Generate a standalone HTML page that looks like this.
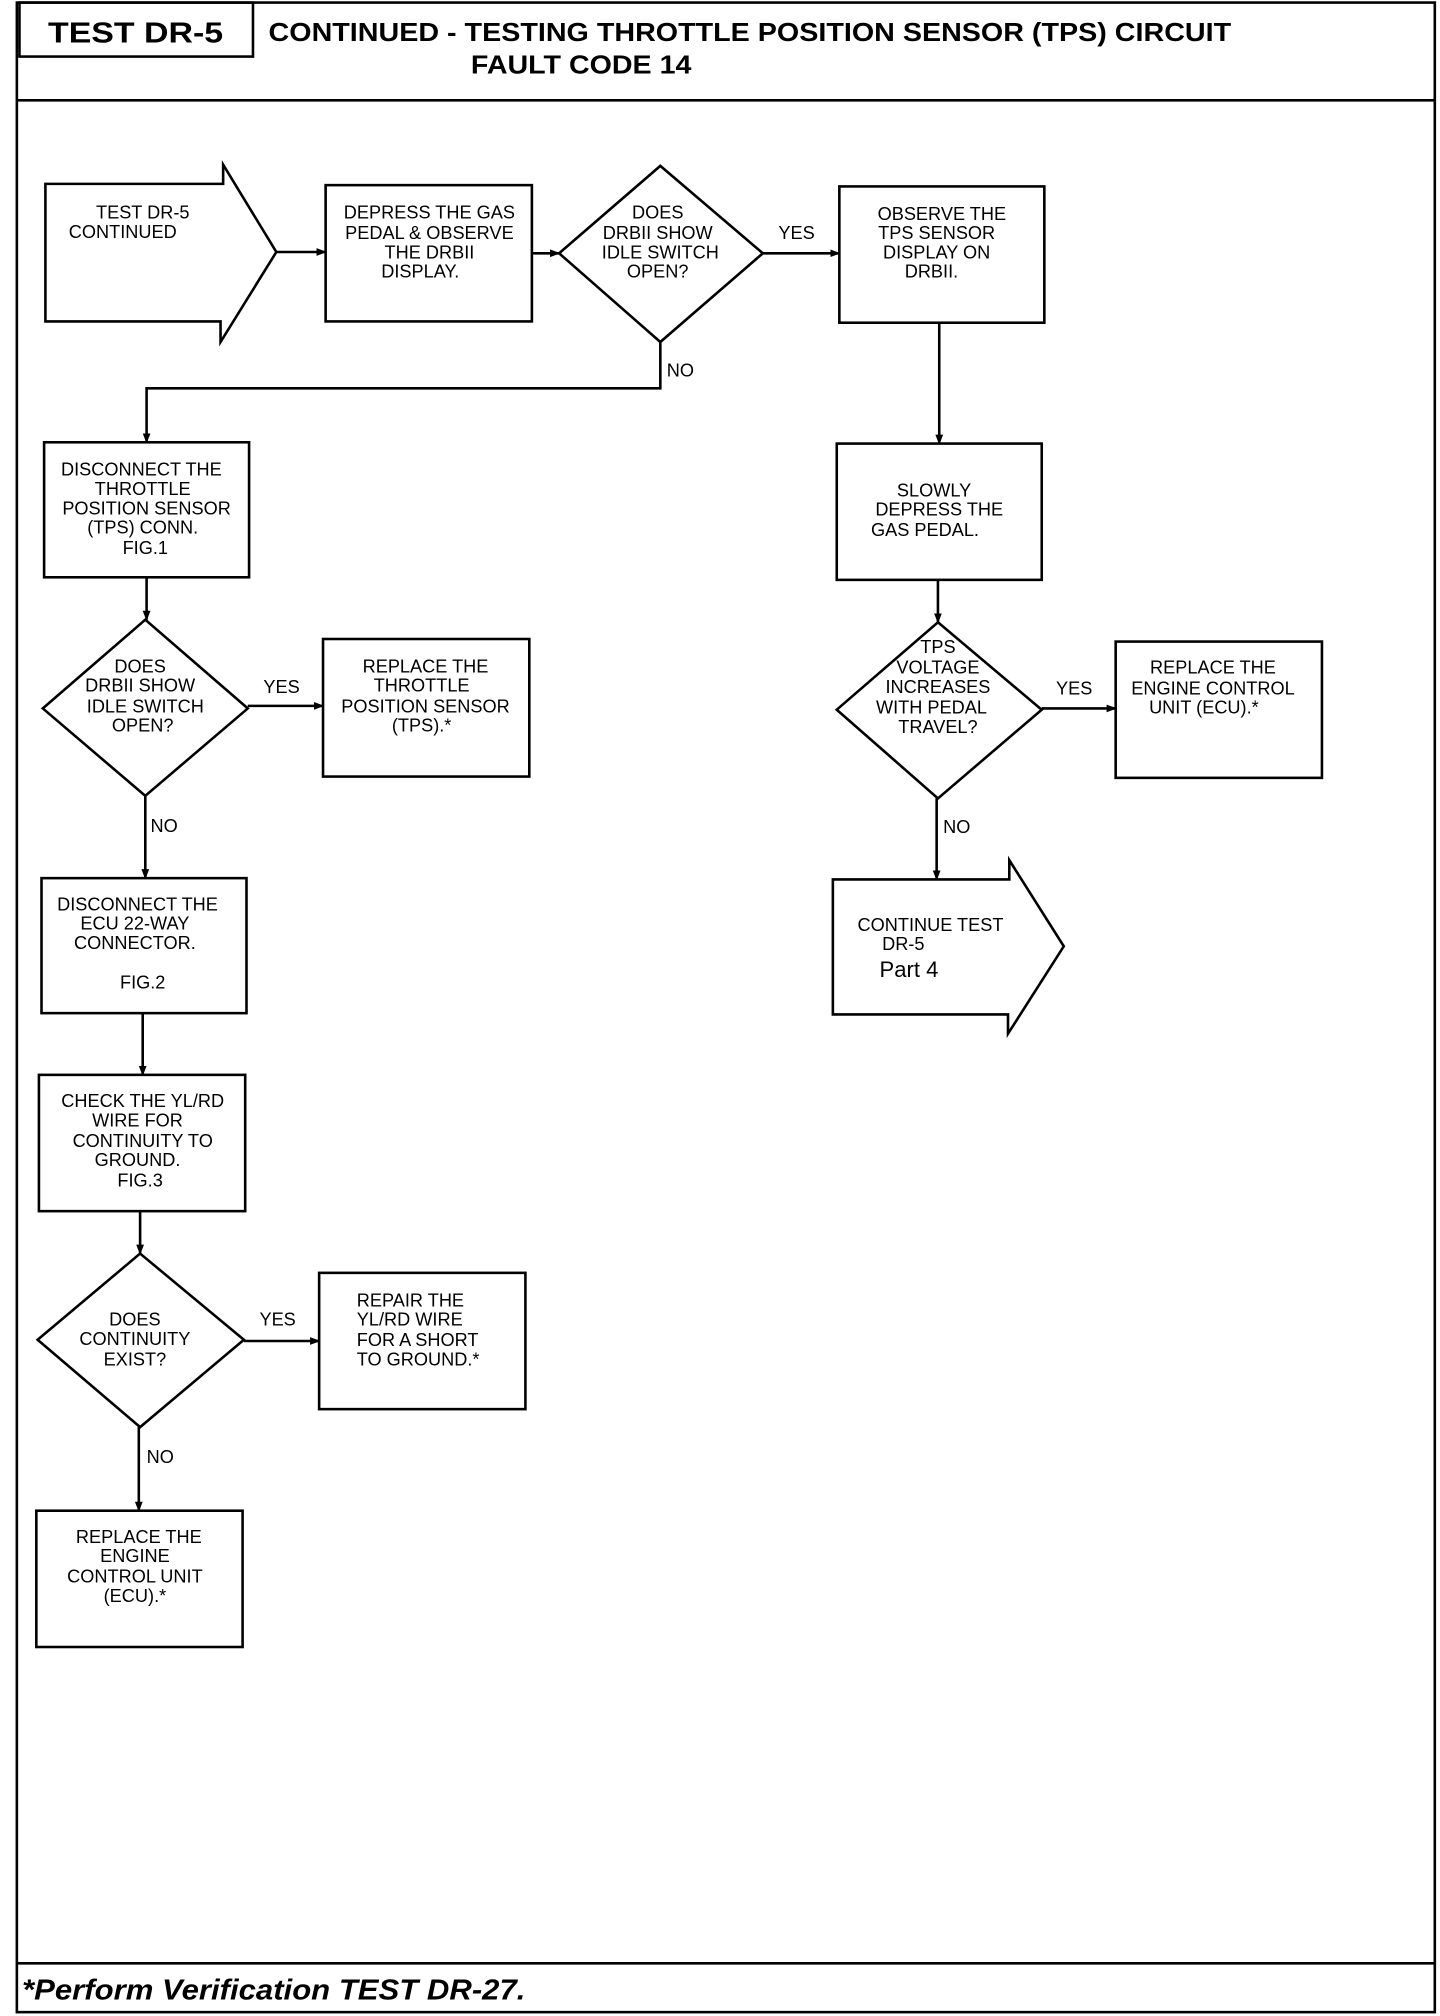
<!DOCTYPE html>
<html><head><meta charset="utf-8"><style>
html,body{margin:0;padding:0;background:#fff;}
svg{display:block;}
.n{font-family:"Liberation Sans Narrow","Liberation Sans",sans-serif;font-size:14px;text-anchor:middle;fill:#000;}
.l{font-family:"Liberation Sans Narrow","Liberation Sans",sans-serif;font-size:14px;fill:#000;}
</style></head><body>
<svg width="1440" height="2016" viewBox="0 0 1110 1568" preserveAspectRatio="none" xmlns="http://www.w3.org/2000/svg">
<defs><marker id="a" markerWidth="8" markerHeight="8" refX="7" refY="4" orient="auto" markerUnits="userSpaceOnUse"><path d="M0,1 L8,4 L0,7z" fill="#000"/></marker></defs>
<g fill="none" stroke="#000" stroke-width="2">
<rect x="13" y="2" width="1093" height="1563"/>
<line x1="13" y1="78" x2="1106" y2="78"/>
<rect x="15" y="2" width="180" height="42"/>
<line x1="13" y1="1527" x2="1106" y2="1527"/>
<polygon points="35,143 172,143 172,128 213,196 170,266 170,250 35,250"/>
<rect x="251" y="144" width="159" height="106"/>
<polygon points="509,129 588,197 509,266 431,197"/>
<rect x="647" y="145" width="158" height="106"/>
<rect x="34" y="344" width="158" height="105"/>
<polygon points="112,482 191,551 112,619 33,551"/>
<rect x="249" y="497" width="159" height="107"/>
<rect x="32" y="683" width="158" height="105"/>
<rect x="30" y="836" width="159" height="106"/>
<polygon points="108,975 188,1042 108,1110 29,1042"/>
<rect x="246" y="990" width="159" height="106"/>
<rect x="28" y="1175" width="159" height="106"/>
<rect x="645" y="345" width="158" height="106"/>
<polygon points="723,484 803,552 723,621 645,552"/>
<rect x="860" y="499" width="159" height="106"/>
<polygon points="642,684 778,684 778,669 820,736 777,804 777,789 642,789"/>
<g marker-end="url(#a)">
<line x1="213" y1="196" x2="251" y2="196"/>
<line x1="410" y1="197" x2="431" y2="197"/>
<line x1="588" y1="197" x2="647" y2="197"/>
<polyline points="509,266 509,302 113,302 113,344"/>
<line x1="113" y1="449" x2="113" y2="482"/>
<line x1="191" y1="549" x2="249" y2="549"/>
<line x1="112" y1="619" x2="112" y2="683"/>
<line x1="110" y1="788" x2="110" y2="836"/>
<line x1="108" y1="942" x2="108" y2="975"/>
<line x1="188" y1="1043" x2="246" y2="1043"/>
<line x1="107" y1="1110" x2="107" y2="1175"/>
<line x1="724" y1="251" x2="724" y2="345"/>
<line x1="723" y1="451" x2="723" y2="484"/>
<line x1="803" y1="551" x2="860" y2="551"/>
<line x1="722" y1="621" x2="722" y2="684"/>
</g>
</g>
<text x="37" y="33" font-family="Liberation Sans" font-weight="bold" font-size="22" textLength="135" lengthAdjust="spacingAndGlyphs">TEST DR-5</text>
<text x="207" y="32" font-family="Liberation Sans" font-weight="bold" font-size="20" textLength="742" lengthAdjust="spacingAndGlyphs">CONTINUED -  TESTING THROTTLE POSITION SENSOR (TPS) CIRCUIT</text>
<text x="363" y="57" font-family="Liberation Sans" font-weight="bold" font-size="20" textLength="170" lengthAdjust="spacingAndGlyphs">FAULT CODE 14</text>
<text x="17" y="1555" font-family="Liberation Sans" font-weight="bold" font-style="italic" font-size="22" textLength="388" lengthAdjust="spacingAndGlyphs">*Perform Verification TEST DR-27.</text>
<text class="l" x="74" y="170">TEST DR-5</text><text class="l" x="53" y="185">CONTINUED</text>
<text class="n"><tspan x="331" y="170">DEPRESS THE GAS</tspan><tspan x="331" y="186">PEDAL &amp; OBSERVE</tspan><tspan x="331" y="201">THE DRBII</tspan><tspan x="324" y="216">DISPLAY.</tspan></text>
<text class="n"><tspan x="507" y="170">DOES</tspan><tspan x="507" y="186">DRBII SHOW</tspan><tspan x="509" y="201">IDLE SWITCH</tspan><tspan x="507" y="216">OPEN?</tspan></text>
<text class="l" x="600" y="186">YES</text>
<text class="n"><tspan x="726" y="171">OBSERVE THE</tspan><tspan x="722" y="186">TPS SENSOR</tspan><tspan x="722" y="201">DISPLAY ON</tspan><tspan x="718" y="216">DRBII.</tspan></text>
<text class="l" x="514" y="293">NO</text>
<text class="n"><tspan x="109" y="370">DISCONNECT THE</tspan><tspan x="110" y="385">THROTTLE</tspan><tspan x="113" y="400">POSITION SENSOR</tspan><tspan x="110" y="415">(TPS) CONN.</tspan><tspan x="112" y="431">FIG.1</tspan></text>
<text class="n"><tspan x="108" y="523">DOES</tspan><tspan x="108" y="538">DRBII SHOW</tspan><tspan x="112" y="554">IDLE SWITCH</tspan><tspan x="110" y="569">OPEN?</tspan></text>
<text class="l" x="203" y="539">YES</text>
<text class="n"><tspan x="328" y="523">REPLACE THE</tspan><tspan x="325" y="538">THROTTLE</tspan><tspan x="328" y="554">POSITION SENSOR</tspan><tspan x="325" y="569">(TPS).*</tspan></text>
<text class="l" x="116" y="647">NO</text>
<text class="n"><tspan x="106" y="708">DISCONNECT THE</tspan><tspan x="104" y="723">ECU 22-WAY</tspan><tspan x="104" y="738">CONNECTOR.</tspan><tspan x="110" y="769">FIG.2</tspan></text>
<text class="n"><tspan x="110" y="861">CHECK THE YL/RD</tspan><tspan x="106" y="876">WIRE FOR</tspan><tspan x="110" y="892">CONTINUITY TO</tspan><tspan x="106" y="907">GROUND.</tspan><tspan x="108" y="923">FIG.3</tspan></text>
<text class="n"><tspan x="104" y="1031">DOES</tspan><tspan x="104" y="1046">CONTINUITY</tspan><tspan x="104" y="1062">EXIST?</tspan></text>
<text class="l" x="200" y="1031">YES</text>
<text class="l"><tspan x="275" y="1016">REPAIR THE</tspan><tspan x="275" y="1031">YL/RD WIRE</tspan><tspan x="275" y="1047">FOR A SHORT</tspan><tspan x="275" y="1062">TO GROUND.*</tspan></text>
<text class="l" x="113" y="1138">NO</text>
<text class="n"><tspan x="107" y="1200">REPLACE THE</tspan><tspan x="104" y="1215">ENGINE</tspan><tspan x="104" y="1231">CONTROL UNIT</tspan><tspan x="104" y="1246">(ECU).*</tspan></text>
<text class="n"><tspan x="720" y="386">SLOWLY</tspan><tspan x="724" y="401">DEPRESS THE</tspan><tspan x="713" y="417">GAS PEDAL.</tspan></text>
<text class="n"><tspan x="723" y="508">TPS</tspan><tspan x="723" y="524">VOLTAGE</tspan><tspan x="723" y="539">INCREASES</tspan><tspan x="718" y="555">WITH PEDAL</tspan><tspan x="723" y="570">TRAVEL?</tspan></text>
<text class="l" x="814" y="540">YES</text>
<text class="n"><tspan x="935" y="524">REPLACE THE</tspan><tspan x="935" y="540">ENGINE CONTROL</tspan><tspan x="928" y="555">UNIT (ECU).*</tspan></text>
<text class="l" x="727" y="648">NO</text>
<text class="l"><tspan x="661" y="724">CONTINUE TEST</tspan><tspan x="680" y="739">DR-5</tspan></text>
<text x="678" y="760" font-family="Liberation Sans" font-size="17">Part 4</text>
</svg>
</body></html>
